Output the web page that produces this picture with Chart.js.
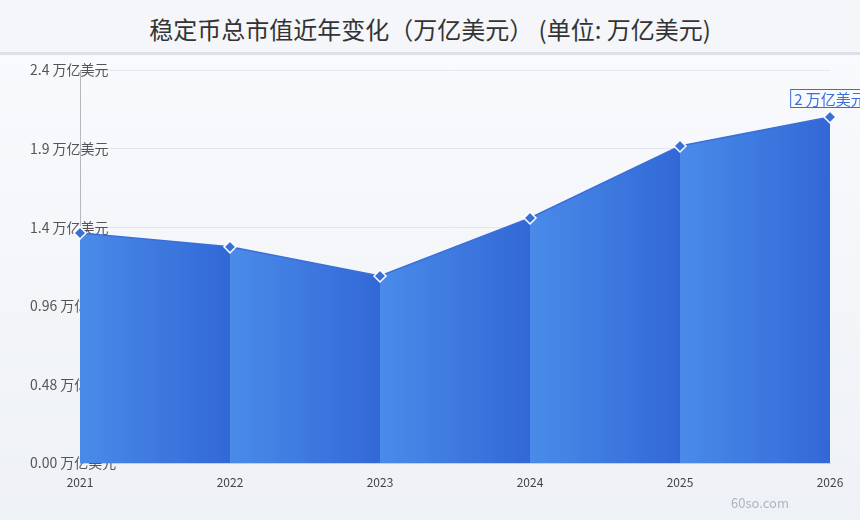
<!DOCTYPE html>
<html>
<head>
<meta charset="utf-8">
<script src="https://cdn.jsdelivr.net/npm/chart.js@4/dist/chart.umd.min.js"></script>
<style>
	html, body { margin: 0; padding: 0; }
	body {
		width: 860px;
		height: 520px;
		overflow: hidden;
		background: linear-gradient(#fafbfd, #eef1f6);
		font-family: 'Noto Sans CJK SC', 'Noto Sans', sans-serif;
	}
	.header {
		height: 52px;
		line-height: 57px;
		text-align: center;
		font-size: 24px;
		color: #333;
		background: #f4f6fa;
		border-bottom: 3px solid #dde0e8;
	}
	.chart {
		position: relative;
		width: 860px;
		height: 465px;
	}
</style>
</head>
<body>
<div class="header">稳定币总市值近年变化（万亿美元） (单位: 万亿美元)</div>
<div class="chart"><canvas id="cap"></canvas></div>
<script>
const years = ['2021', '2022', '2023', '2024', '2025', '2026'];
const marketCap = [1.405, 1.32, 1.142, 1.496, 1.936, 2.113];
const yTicks = [0, 0.48, 0.96, 1.44, 1.92, 2.4];
const yTickLabels = ['0.00 万亿美元', '0.48 万亿美元', '0.96 万亿美元', '1.4 万亿美元', '1.9 万亿美元', '2.4 万亿美元'];
const unit = '万亿美元';

const FONT = "'Noto Sans CJK SC', 'Noto Sans', sans-serif";
const lightBlue = '#4a8be9';
const darkBlue = '#3268d6';

// one light->dark gradient per segment between two years
const segmentFill = (context) => {
	const chart = context.chart;
	const x = chart.scales.x;
	if (!chart.chartArea || !x) return lightBlue;
	const left = chart.chartArea.left;
	const right = chart.chartArea.right;
	const grad = chart.ctx.createLinearGradient(left, 0, right, 0);
	for (let i = 0; i < years.length - 1; i++) {
		const a = (x.getPixelForValue(i) - left) / (right - left);
		const b = (x.getPixelForValue(i + 1) - left) / (right - left);
		grad.addColorStop(Math.max(0, Math.min(1, a)), lightBlue);
		grad.addColorStop(Math.max(0, Math.min(1, b)), darkBlue);
	}
	return grad;
};

const lastLabel = {
	id: 'lastLabel',
	afterDatasetsDraw(chart) {
		const meta = chart.getDatasetMeta(0);
		const i = marketCap.length - 1;
		const pt = meta.data[i];
		const ctx = chart.ctx;
		const text = Number(marketCap[i].toPrecision(1)) + ' ' + unit;
		ctx.save();
		ctx.font = '15px ' + FONT;
		const w = ctx.measureText(text).width + 8;
		const h = 18;
		const bx = pt.x - w / 2;
		const by = pt.y - 10 - h;
		ctx.fillStyle = '#f8faff';
		ctx.fillRect(bx, by, w, h);
		ctx.strokeStyle = '#3a6fd8';
		ctx.lineWidth = 1;
		ctx.strokeRect(bx + 0.5, by + 0.5, w, h);
		ctx.fillStyle = '#3a6fd8';
		ctx.textBaseline = 'middle';
		ctx.textAlign = 'center';
		ctx.fillText(text, pt.x, by + h / 2 + 1);
		ctx.restore();
	},
};

const watermark = {
	id: 'watermark',
	afterDraw(chart) {
		const ctx = chart.ctx;
		ctx.save();
		ctx.font = '13px ' + FONT;
		ctx.fillStyle = '#b0b4bc';
		ctx.textAlign = 'center';
		ctx.textBaseline = 'middle';
		ctx.fillText('60so.com', 760, 448);
		ctx.restore();
	},
};

const context = document.querySelector('#cap');
// eslint-disable-next-line
const capChart = new Chart(context, {
	type: 'line',
	data: {
		labels: years,
		datasets: [
			{
				label: '稳定币总市值',
				data: marketCap,
				fill: 'origin',
				backgroundColor: segmentFill,
				borderColor: '#3a6fd8',
				borderWidth: 1.5,
				tension: 0,
				pointStyle: 'rectRot',
				pointRadius: 6,
				pointBackgroundColor: '#3a6fd8',
				pointBorderColor: '#ffffff',
				pointBorderWidth: 1.5,
				clip: false,
			},
		],
	},
	options: {
		responsive: true,
		maintainAspectRatio: false,
		animation: false,
		layout: { padding: { top: 15, left: 30, right: 30, bottom: 27 } },
		plugins: {
			legend: { display: false },
			tooltip: { enabled: false },
		},
		scales: {
			x: {
				offset: false,
				grid: { display: false },
				border: { display: true, color: '#c9cdd5' },
				ticks: {
					font: { family: FONT, size: 12 },
					color: '#444',
					padding: 4,
					maxRotation: 0,
				},
				afterFit: (scale) => { scale.height = 30; },
			},
			y: {
				min: 0,
				max: 2.4,
				afterBuildTicks: (scale) => {
					scale.ticks = yTicks.map((v) => ({ value: v }));
				},
				grid: { color: '#e3e6ec', drawTicks: false },
				border: { display: true, color: '#b4b8c0' },
				ticks: {
					font: { family: FONT, size: 14 },
					color: '#555',
					// mirrored so the labels are not clipped to the axis box
					mirror: true,
					crossAlign: 'near',
					padding: -50,
					callback: (value, index) => yTickLabels[index],
				},
				afterFit: (scale) => { scale.width = 50; },
			},
		},
	},
	plugins: [lastLabel, watermark],
});
</script>
</body>
</html>
